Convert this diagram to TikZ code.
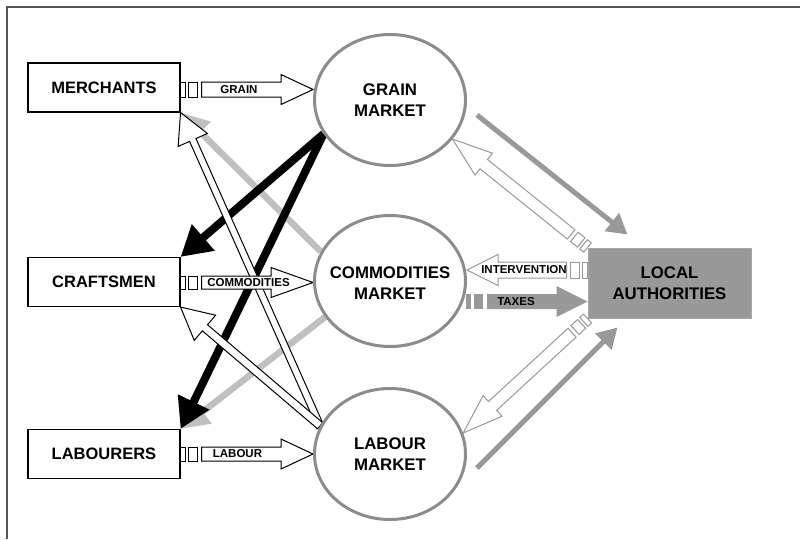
\documentclass[tikz,border=0pt]{standalone}
\usepackage{fontspec}
\setmainfont{Liberation Sans}
\usetikzlibrary{calc,shapes.geometric,arrows.meta}

\definecolor{ringgray}{HTML}{8C8C8C}
\definecolor{midgray}{HTML}{999999}
\definecolor{edgegray}{HTML}{A6A6A6}
\definecolor{palegray}{HTML}{C0C0C0}
\definecolor{framegray}{HTML}{555555}

\pgfdeclarelayer{back}
\pgfsetlayers{back,main}

% Striped block arrow: #1 style, #2 tail, #3 tip,
% #4 shaft half-width, #5 head half-width, #6 head length
\newcommand\stripedarrow[6]{%
  \path (#2) coordinate (sa-a) (#3) coordinate (sa-b);
  \path ($(sa-a)!5pt!(sa-b)$) coordinate (sa-1)
        ($(sa-a)!8pt!(sa-b)$) coordinate (sa-2)
        ($(sa-a)!17pt!(sa-b)$) coordinate (sa-3)
        ($(sa-a)!21pt!(sa-b)$) coordinate (sa-4)
        ($(sa-b)!#6!(sa-a)$) coordinate (sa-h);
  \filldraw[#1] ($(sa-a)!#4!90:(sa-b)$) -- ($(sa-1)!#4!90:(sa-b)$)
     -- ($(sa-1)!#4!-90:(sa-b)$) -- ($(sa-a)!#4!-90:(sa-b)$) -- cycle;
  \filldraw[#1] ($(sa-2)!#4!90:(sa-b)$) -- ($(sa-3)!#4!90:(sa-b)$)
     -- ($(sa-3)!#4!-90:(sa-b)$) -- ($(sa-2)!#4!-90:(sa-b)$) -- cycle;
  \filldraw[#1] ($(sa-4)!#4!90:(sa-b)$) -- ($(sa-h)!#4!90:(sa-b)$)
     -- ($(sa-h)!#5!90:(sa-b)$) -- (sa-b) -- ($(sa-h)!#5!-90:(sa-b)$)
     -- ($(sa-h)!#4!-90:(sa-b)$) -- ($(sa-4)!#4!-90:(sa-b)$) -- cycle;
}

% Plain block arrow with the same arguments
\newcommand\plainarrow[6]{%
  \path (#2) coordinate (pa-a) (#3) coordinate (pa-b);
  \path ($(pa-b)!#6!(pa-a)$) coordinate (pa-h);
  \filldraw[#1] ($(pa-a)!#4!90:(pa-b)$) -- ($(pa-h)!#4!90:(pa-b)$)
     -- ($(pa-h)!#5!90:(pa-b)$) -- (pa-b) -- ($(pa-h)!#5!-90:(pa-b)$)
     -- ($(pa-h)!#4!-90:(pa-b)$) -- ($(pa-a)!#4!-90:(pa-b)$) -- cycle;
}

\begin{document}
\begin{tikzpicture}[x=1pt,y=-1pt,
  actor/.style={draw=black, line width=1.1pt, fill=white,
    minimum width=152pt, minimum height=49pt, inner sep=0pt,
    font=\fontsize{16.5}{20}\selectfont\bfseries},
  market/.style={ellipse, draw=ringgray, line width=3pt, fill=white,
    minimum width=151pt, minimum height=131pt, inner sep=0pt},
  marketname/.style={align=center, inner sep=0pt,
    font=\fontsize{16.8}{20.5}\selectfont\bfseries},
  authority/.style={draw=edgegray, line width=1pt, fill=midgray,
    minimum width=163pt, minimum height=70pt, inner sep=0pt, align=center,
    font=\fontsize{16.8}{20.5}\selectfont\bfseries},
  flowlabel/.style={inner sep=0pt, font=\fontsize{11.5}{12}\selectfont\bfseries},
  outlineblack/.style={draw=black, fill=white, line width=1pt, line join=miter},
  outlinegray/.style={draw=midgray, fill=white, line width=1pt, line join=miter},
  solidgray/.style={draw=none, fill=midgray},
  heavy/.style={draw=black, line width=8pt, -{Triangle[length=30pt,width=33pt]}},
  pale/.style={draw=palegray, line width=6.5pt, -{Triangle[length=28pt,width=28pt]}},
  feed/.style={draw=midgray, line width=5pt, -{Triangle[length=20pt,width=22pt]}}
]
\useasboundingbox (0,0) rectangle (800,539);

% page frame
\draw[framegray, line width=1.2pt] (800,7) -- (7,7) -- (7,539);

% actors
\node[actor] (merch) at (104,87.5) {MERCHANTS};
\node[actor] (craft) at (104,282) {CRAFTSMEN};
\node[actor] (labr)  at (104,454) {LABOURERS};

% markets
\node[market] (gm) at (390,100) {};
\node[marketname] at (gm) {GRAIN\\MARKET};
\node[market] (cm) at (390,281) {};
\node[marketname] at ([yshift=-2pt]cm.center) {COMMODITIES\\MARKET};
\node[market] (lm) at (390,454) {};
\node[marketname] at (lm) {LABOUR\\MARKET};

% authorities
\node[authority] (la) at (669.5,283) {LOCAL\\AUTHORITIES};

\begin{pgfonlayer}{back}
  % markets and local authorities
  \draw[feed] ($(gm.east)+(10,15)$) -- ($(la.north west)+(40,-13)$);
  \draw[feed] ($(lm.east)+(10,14)$) -- ($(la.south west)+(30,9)$);
  \stripedarrow{outlinegray}{la.north west}{gm.-32}{6pt}{14pt}{40pt}
  \stripedarrow{outlinegray}{la.south west}{lm.16}{6pt}{14pt}{40pt}

  \coordinate (taxA) at ($(cm.east)+(-1,20.5)$);
  \coordinate (taxB) at (la.west |- taxA);
  \stripedarrow{solidgray}{taxA}{taxB}{7.5pt}{15.5pt}{31pt}

  \coordinate (intA) at ([yshift=13pt]la.west);
  \coordinate (intB) at (cm.east |- intA);
  \stripedarrow{outlinegray}{intA}{intB}{8pt}{15.5pt}{31pt}

  % flows between markets and actors
  \draw[pale] (cm.157) -- (merch.south east);
  \draw[pale] (cm.209) -- (labr.north east);
  \draw[heavy] (gm.207) -- (craft.north east);
  \draw[heavy] (gm.207) -- (labr.north east);
  \plainarrow{outlineblack}{lm.158}{merch.south east}{3.5pt}{16pt}{30pt}
  \plainarrow{outlineblack}{lm.158}{craft.south east}{4pt}{16.5pt}{32pt}

  % supply flows into the markets
  \coordinate (grA) at ([yshift=-2pt]merch.east);
  \coordinate (grB) at (gm.west |- grA);
  \stripedarrow{outlineblack}{grA}{grB}{7.5pt}{15pt}{32pt}
  \coordinate (coA) at ([yshift=-0.5pt]craft.east);
  \coordinate (coB) at (cm.west |- coA);
  \stripedarrow{outlineblack}{coA}{coB}{6.5pt}{15pt}{42pt}
  \coordinate (lbA) at (labr.east);
  \coordinate (lbB) at (lm.west |- lbA);
  \stripedarrow{outlineblack}{lbA}{lbB}{7pt}{15pt}{32pt}

  % flow labels
  \node[flowlabel] (lgrain) at (239,89.5) {GRAIN};
  \node[flowlabel] (lcomm)  at (248.5,282.5) {COMMODITIES};
  \node[flowlabel] (llab)   at (237.5,454) {LABOUR};
  \node[flowlabel] (lint)   at (524,270) {INTERVENTION};
  \node[flowlabel] (ltax)   at (516,302) {TAXES};
\end{pgfonlayer}
\end{tikzpicture}
\end{document}
